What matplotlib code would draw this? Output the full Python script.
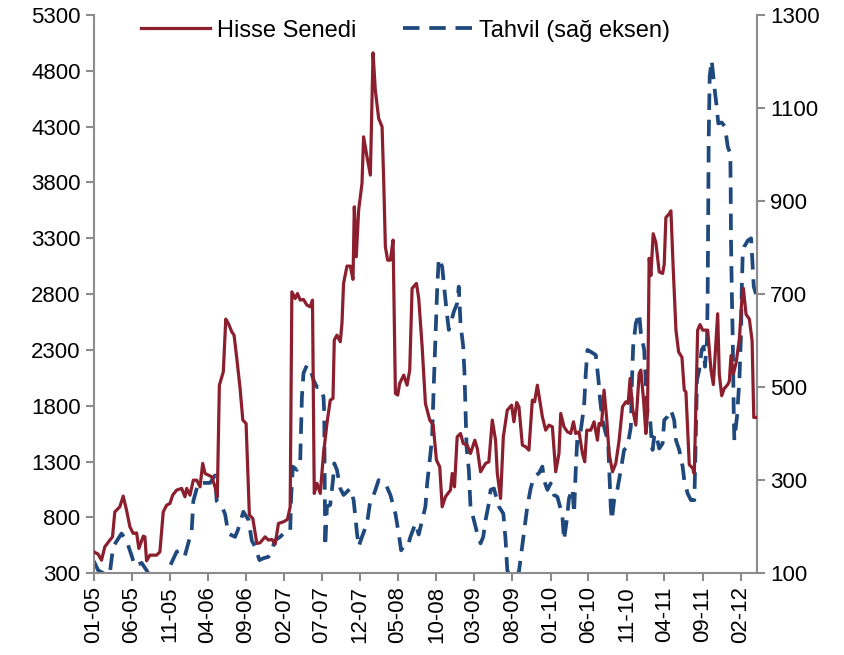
#!/usr/bin/env python
"""
Hisse senedi ve tahvil serileri, iki eksenli cizgi grafik.
"""

import matplotlib
matplotlib.use("Agg")
import matplotlib.pyplot as plt
import matplotlib.dates as mdates
import pandas as pd

START = "2005-01-01"

# months since January 2005
stock_months = [
    0.00, 0.57, 1.01, 1.45, 2.11, 2.46, 2.76, 3.42, 3.86, 4.30, 4.74, 5.17,
    5.62, 5.92, 6.49, 6.71, 6.93, 7.37, 8.25, 8.68, 9.12, 9.57, 10.00, 10.36,
    10.88, 11.54, 11.97, 12.20, 12.63, 13.07, 13.51, 13.95, 14.30, 14.61,
    15.04, 15.49, 15.92, 16.22, 16.49, 17.01, 17.33, 17.67, 18.12, 18.42,
    18.78, 19.21, 19.57, 20.00, 20.43, 20.88, 21.41, 21.84, 22.50, 22.93,
    23.38, 23.82, 24.25, 24.91, 25.43, 25.79, 26.01, 26.45, 26.75, 27.11,
    27.54, 27.99, 28.42, 28.72, 28.95, 29.30, 29.74, 30.17, 30.62, 31.05,
    31.41, 31.58, 31.93, 32.37, 32.59, 32.80, 33.25, 33.68, 34.04, 34.21,
    34.47, 34.78, 35.22, 35.43, 35.88, 36.32, 36.67, 36.97, 37.41, 37.86,
    38.07, 38.29, 38.59, 38.95, 39.30, 39.61, 39.91, 40.17, 40.70, 41.14,
    41.49, 41.80, 42.37, 42.67, 43.12, 43.55, 44.12, 44.57, 45.00, 45.43,
    45.75, 46.18, 46.84, 47.07, 47.37, 47.72, 48.16, 48.51, 49.04, 49.47,
    50.04, 50.36, 50.79, 51.45, 51.88, 52.33, 52.76, 52.99, 53.42, 53.78,
    54.30, 54.87, 55.17, 55.53, 55.83, 56.28, 56.71, 57.14, 57.59, 57.89,
    58.25, 58.91, 59.34, 59.78, 60.22, 60.66, 61.09, 61.32, 61.75, 62.20,
    62.63, 62.99, 63.29, 63.72, 64.17, 64.47, 64.74, 65.26, 65.70, 66.14,
    66.36, 66.67, 67.01, 67.37, 67.67, 68.12, 68.55, 68.99, 69.43, 69.87,
    70.17, 70.43, 70.75, 71.18, 71.62, 71.84, 72.20, 72.50, 72.72, 72.93,
    73.16, 73.46, 73.82, 74.25, 74.70, 74.91, 75.13, 75.57, 75.79, 76.09,
    76.45, 76.80, 77.24, 77.54, 77.76, 78.20, 78.64, 78.86, 79.30, 79.61,
    79.96, 80.62, 81.05, 81.36, 81.93, 82.14, 82.46, 82.80, 83.25, 83.46,
    83.68, 83.99, 84.34, 84.78, 85.09, 85.30, 85.66, 86.09, 86.45, 86.67,
    87.11,
]
stock_values = [
    491, 470, 416, 536, 596, 625, 849, 894, 990, 864, 715, 656,
    660, 521, 631, 625, 410, 461, 461, 491, 849, 909, 924, 999,
    1044, 1059, 984, 1059, 999, 1133, 1133, 1073, 1283, 1193,
    1178, 1163, 1073, 984, 1984, 2104, 2576, 2537, 2462, 2432,
    2224, 1955, 1671, 1641, 820, 790, 566, 572, 625, 596,
    602, 560, 745, 760, 781, 894, 2820, 2760, 2805, 2746,
    2752, 2701, 2686, 2746, 1014, 1104, 1014, 1372, 1641, 1850,
    1865, 2388, 2432, 2373, 2537, 2896, 3051, 3051, 2932, 3582,
    3134, 3552, 3791, 4209, 4030, 3866, 4962, 4628, 4374, 4299,
    3821, 3224, 3104, 3104, 3284, 1910, 1895, 2000, 2074, 1984,
    2119, 2851, 2896, 2761, 2328, 1820, 1671, 1626, 1312, 1252,
    894, 984, 1044, 1193, 1073, 1521, 1551, 1462, 1447, 1372,
    1491, 1417, 1208, 1283, 1297, 1671, 1491, 1193, 969, 1521,
    1760, 1805, 1656, 1829, 1790, 1447, 1432, 1402, 1850, 1835,
    1984, 1700, 1581, 1626, 1611, 1208, 1372, 1731, 1611, 1566,
    1551, 1656, 1551, 1566, 1372, 1297, 1581, 1581, 1656, 1491,
    1641, 1626, 1940, 1671, 1372, 1208, 1283, 1491, 1790, 1835,
    1820, 2044, 1775, 1626, 2089, 2119, 1850, 1551, 1731, 3120,
    2966, 3341, 3260, 2999, 2985, 3066, 3487, 3520, 3546, 3031,
    2477, 2282, 2234, 1940, 1924, 1272, 1240, 1191, 2477, 2527,
    2477, 2477, 2119, 1989, 2624, 2085, 1890, 1954, 1989, 2020,
    2249, 2085, 2180, 2397, 2738, 2852, 2618, 2576, 2382, 1695,
    1695,
]

bond_months = [
    0.00, 0.57, 1.45, 2.11, 2.54, 3.64, 4.30, 4.96, 5.39, 6.28, 6.93, 7.63,
    8.68, 9.78, 10.00, 10.88, 11.54, 11.97, 12.86, 13.07, 13.72, 14.61,
    15.26, 15.92, 16.14, 16.80, 17.24, 17.67, 18.55, 18.91, 19.64, 20.30,
    20.75, 21.18, 21.75, 22.28, 22.93, 23.38, 23.82, 24.47, 24.91, 25.79,
    25.92, 26.14, 26.67, 27.11, 27.33, 27.54, 27.99, 28.42, 28.86, 29.30,
    29.74, 30.17, 30.26, 30.39, 30.62, 31.05, 31.41, 31.58, 31.93, 32.37,
    32.80, 33.68, 34.12, 34.57, 34.78, 35.22, 35.88, 36.32, 36.75, 37.41,
    37.86, 38.29, 38.95, 39.61, 40.04, 40.36, 40.70, 41.22, 41.58, 42.24,
    42.67, 43.12, 43.55, 43.78, 44.21, 44.43, 44.64, 44.87, 45.09, 45.30,
    45.75, 45.96, 46.32, 46.62, 47.28, 47.72, 47.93, 48.16, 48.51, 48.68,
    48.82, 48.95, 49.25, 49.47, 49.91, 50.36, 50.79, 51.14, 51.45, 51.88,
    52.11, 52.54, 53.20, 53.78, 54.08, 54.30, 54.74, 55.39, 55.83, 56.14,
    56.49, 56.93, 57.37, 57.80, 58.46, 58.91, 59.12, 59.57, 60.00, 60.43,
    60.88, 61.22, 61.54, 61.75, 62.11, 62.41, 62.86, 63.07, 63.29, 63.51,
    63.95, 64.38, 64.61, 64.83, 65.26, 65.92, 66.28, 66.49, 66.80, 67.24,
    67.54, 67.67, 67.89, 68.03, 68.33, 68.78, 69.21, 69.64, 70.09, 70.53,
    70.66, 70.83, 71.18, 71.62, 71.84, 72.28, 72.50, 72.72, 73.07, 73.25,
    73.38, 73.59, 73.82, 74.25, 74.70, 74.91, 75.36, 75.79, 76.22, 76.45,
    76.88, 77.33, 77.54, 77.99, 78.42, 78.86, 78.95, 79.08, 79.21, 79.51,
    79.83, 80.09, 80.26, 80.53, 80.62, 80.70, 80.75, 80.88, 81.14, 81.49,
    81.80, 82.01, 82.46, 82.89, 83.25, 83.59, 83.64, 83.68, 83.78, 83.91,
    84.04, 84.12, 84.47, 84.78, 85.00, 85.09, 85.22, 85.43, 85.88, 86.32,
    86.67, 86.97,
]
bond_values = [
    126, 106, 98, 100, 157, 185, 170, 138, 115, 122, 106, 85,
    80, 104, 115, 146, 150, 138, 192, 255, 294, 294,
    294, 310, 255, 244, 227, 185, 178, 192, 232, 215,
    170, 157, 128, 132, 135, 150, 171, 178, 185, 189,
    264, 329, 322, 343, 479, 530, 547, 540, 515, 500,
    500, 479, 444, 157, 243, 247, 300, 336, 322, 282,
    268, 282, 257, 185, 157, 178, 207, 257, 268, 300,
    296, 293, 268, 228, 185, 149, 157, 157, 178, 207,
    183, 214, 243, 293, 357, 393, 501, 608, 709, 777,
    759, 723, 666, 623, 662, 680, 716, 637, 587, 530,
    444, 372, 322, 243, 214, 185, 164, 178, 214, 250,
    279, 282, 243, 228, 171, 106, 90, 95, 103, 142,
    185, 243, 282, 307, 315, 329, 300, 279, 293, 268,
    264, 243, 222, 171, 214, 261, 282, 228, 322, 393,
    407, 458, 530, 580, 576, 569, 515, 473, 429, 400,
    386, 329, 243, 214, 257, 282, 322, 365, 372, 415,
    508, 587, 637, 659, 616, 580, 508, 444, 429, 386,
    365, 393, 400, 368, 379, 429, 437, 451, 429, 386,
    365, 329, 300, 271, 257, 257, 314, 415, 515, 537,
    580, 587, 544, 601, 709, 888, 1031, 1168, 1203, 1146,
    1103, 1067, 1069, 1060, 1017, 1002, 924, 816, 709, 601,
    444, 386, 437, 515, 616, 709, 788, 802, 815, 820,
    716, 700,
]

STOCK_LABEL = "Hisse Senedi"
BOND_LABEL = "Tahvil (sağ eksen)"
LEFT_TICKS = list(range(300, 5301, 500))
RIGHT_TICKS = list(range(100, 1301, 200))

RED = "#8B1F2E"
BLUE = "#1F497D"
GREY = "#8C8C8C"


def to_dates(months):
    """
    Turns month offsets from the start date into timestamps.
    """
    base = pd.Timestamp(START)
    return [base + pd.Timedelta(days=m * 30.4375) for m in months]


def style_axis(ax):
    """
    Grey spines and outward ticks like the original chart.
    """
    for side in ["left", "right", "bottom"]:
        ax.spines[side].set_color(GREY)
        ax.spines[side].set_linewidth(1.5)
    ax.spines["top"].set_visible(False)
    ax.tick_params(colors=GREY, labelcolor="black", labelsize=16,
                   length=6, width=1.5)


if __name__ == "__main__":

    plt.rcParams["font.family"] = ["Liberation Sans", "DejaVu Sans"]

    stock_dates = to_dates(stock_months)
    bond_dates = to_dates(bond_months)

    fig = plt.figure(figsize=(8.45, 6.55), dpi=100)
    ax = fig.add_axes([0.111, 0.125, 0.785, 0.852])
    ax2 = ax.twinx()

    line1, = ax.plot(stock_dates, stock_values, color=RED, lw=2.3,
                     label=STOCK_LABEL, zorder=3)
    line2, = ax2.plot(bond_dates, bond_values, color=BLUE, lw=2.7,
                      dashes=(4.4, 2.6), label=BOND_LABEL)
    ax.set_zorder(ax2.get_zorder() + 1)
    ax.patch.set_visible(False)

    ax.set_ylim(300, 5300)
    ax.set_yticks(LEFT_TICKS)
    ax2.set_ylim(100, 1300)
    ax2.set_yticks(RIGHT_TICKS)

    ax.set_xlim(stock_dates[0], stock_dates[-1])
    ticks = pd.date_range(START, periods=18, freq="5MS")
    ax.set_xticks(ticks)
    ax.xaxis.set_major_formatter(mdates.DateFormatter("%m-%y"))
    plt.setp(ax.get_xticklabels(), rotation=90)

    style_axis(ax)
    style_axis(ax2)
    ax2.spines["left"].set_visible(False)
    ax2.spines["bottom"].set_visible(False)

    ax.legend([line1, line2], [STOCK_LABEL, BOND_LABEL], loc="upper center",
              bbox_to_anchor=(0.47, 1.03), ncol=2, frameon=False,
              fontsize=17, handlelength=2.9, columnspacing=2.0,
              handletextpad=0.3)

    fig.savefig("out.png", dpi=100)
